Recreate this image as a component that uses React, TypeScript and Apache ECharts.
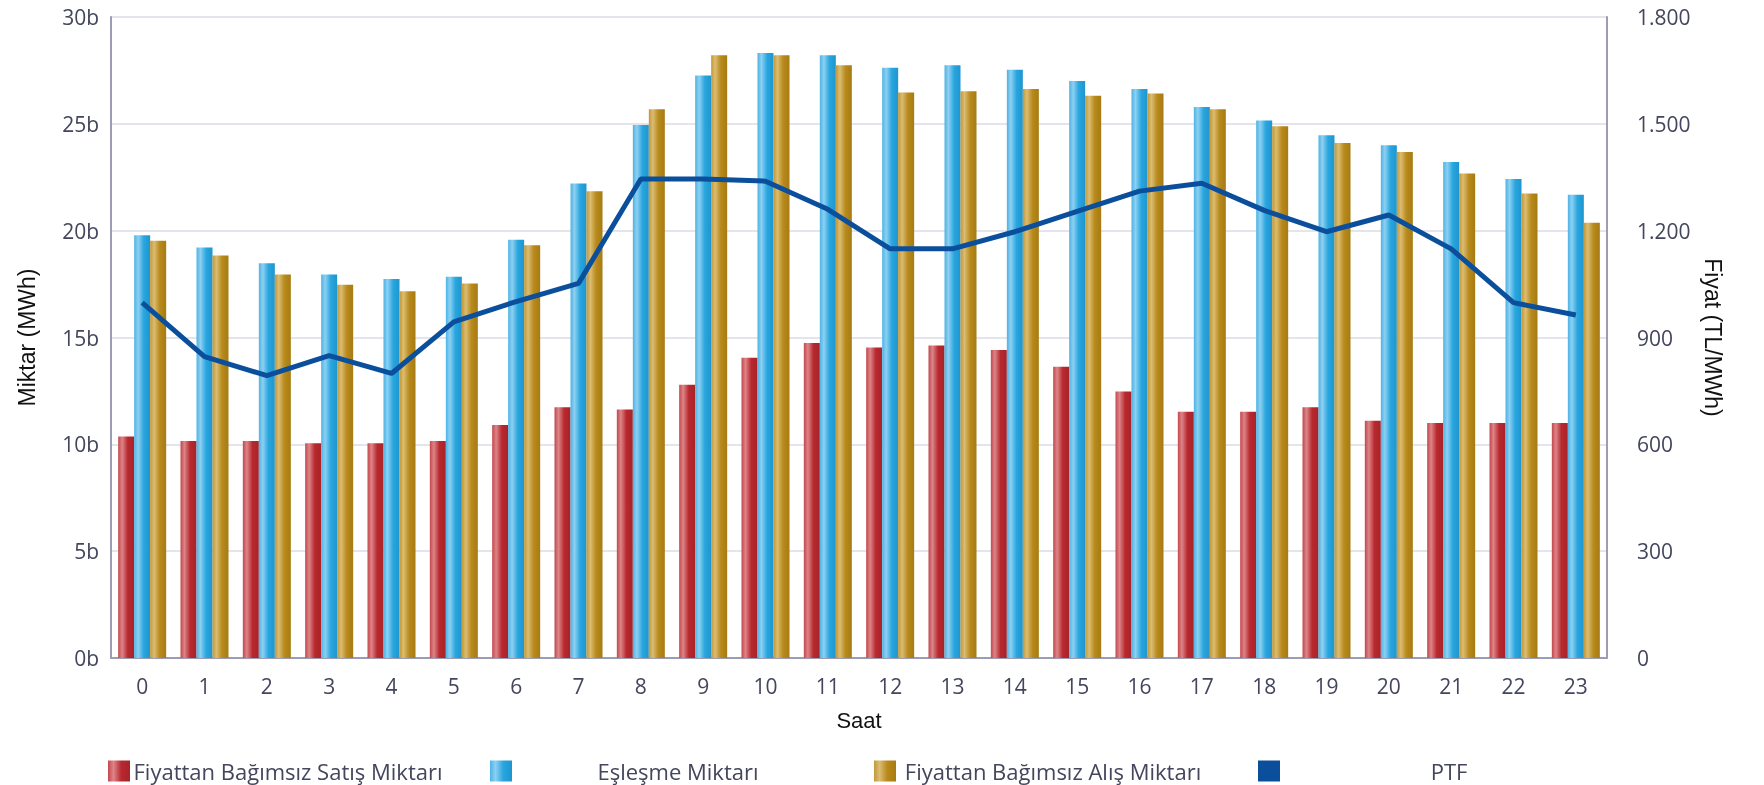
import React, { useEffect, useRef } from "react";
import * as echarts from "echarts";

const hours = ["0","1","2","3","4","5","6","7","8","9","10","11","12","13","14","15","16","17","18","19","20","21","22","23"];
const satisMiktari = [10370,10160,10160,10050,10050,10160,10900,11740,11630,12790,14050,14740,14530,14630,14420,13630,12470,11530,11530,11740,11100,11000,11000,11000];
const eslesmeMiktari = [19790,19210,18470,17950,17740,17840,19580,22210,24950,27260,28320,28210,27630,27740,27530,27000,26630,25790,25160,24470,24000,23210,22420,21680];
const alisMiktari = [19530,18840,17950,17470,17160,17530,19320,21840,25680,28210,28210,27740,26470,26530,26630,26320,26420,25680,24890,24100,23680,22680,21740,20370];
const ptf = [998,846,793,849,799,944,1001,1052,1345,1345,1339,1260,1149,1149,1197,1254,1311,1333,1257,1197,1244,1149,998,963];
const seriesNames = ["Fiyattan Bağımsız Satış Miktarı","Eşleşme Miktarı","Fiyattan Bağımsız Alış Miktarı","PTF"];

const grad = (c0: string, c1: string, c2: string, c3: string) =>
  new echarts.graphic.LinearGradient(0, 0, 1, 0, [
    { offset: 0, color: c0 },
    { offset: 0.25, color: c1 },
    { offset: 0.6, color: c2 },
    { offset: 1, color: c3 },
  ]);

const fmtTr = (v: number) => String(v).replace(/\B(?=(\d{3})+(?!\d))/g, ".");

export default function App() {
  const ref = useRef<HTMLDivElement>(null);
  useEffect(() => {
    const chart = echarts.init(ref.current!, null, { renderer: "svg" });
    const textColor = "#43465c";
    const font = "'Open Sans', sans-serif";
    const legendPos = [
      { left: 108, w: 306 },
      { left: 490, w: 322 },
      { left: 874, w: 304 },
      { left: 1258, w: 328 },
    ];
    chart.setOption({
      animation: false,
      textStyle: { fontFamily: font },
      grid: { left: 111, right: 157, top: 17, bottom: 127 },
      legend: seriesNames.map((n, i) => ({
        data: [n],
        left: legendPos[i].left,
        top: 760,
        padding: 0,
        itemWidth: 22,
        itemHeight: 21,
        itemGap: 0,
        icon: "rect",
        selectedMode: false,
        formatter: (name: string) => `{a|${name}}`,
        textStyle: {
          color: textColor,
          fontFamily: font,
          fontSize: 22,
          rich: { a: { width: legendPos[i].w, align: "center", fontSize: 22, color: textColor, fontFamily: font } },
        },
      })),
      xAxis: {
        type: "category",
        data: hours,
        name: "Saat",
        nameLocation: "middle",
        nameGap: 51,
        nameTextStyle: { color: "#111", fontSize: 22, fontFamily: "'Liberation Sans', Arial, sans-serif" },
        axisLine: { lineStyle: { color: "#9c9cb4", width: 2 } },
        axisTick: { show: false },
        axisLabel: { color: textColor, fontSize: 21, margin: 17 },
      },
      yAxis: [
        {
          type: "value",
          min: 0,
          max: 30000,
          interval: 5000,
          name: "Miktar (MWh)",
          nameLocation: "middle",
          nameGap: 73,
          nameRotate: 90,
          nameTextStyle: { color: "#111", fontSize: 23, fontFamily: "'Liberation Sans', Arial, sans-serif" },
          axisLine: { show: true, lineStyle: { color: "#9c9cb4", width: 2 } },
          axisTick: { show: false },
          axisLabel: { color: textColor, fontSize: 21, margin: 12, formatter: (v: number) => v / 1000 + "b" },
          splitLine: { lineStyle: { color: "#e4e4ec", width: 2 } },
        },
        {
          type: "value",
          min: 0,
          max: 1800,
          interval: 300,
          position: "right",
          name: "Fiyat (TL/MWh)",
          nameLocation: "middle",
          nameGap: 90,
          nameRotate: -90,
          nameTextStyle: { color: "#111", fontSize: 23, fontFamily: "'Liberation Sans', Arial, sans-serif" },
          axisLine: { show: true, lineStyle: { color: "#9c9cb4", width: 2 } },
          axisTick: { show: false },
          axisLabel: { color: textColor, fontSize: 21, margin: 30, formatter: (v: number) => fmtTr(v) },
          splitLine: { show: false },
        },
      ],
      series: [
        {
          name: seriesNames[0],
          type: "bar",
          data: satisMiktari,
          barWidth: 16,
          barGap: "0%",
          itemStyle: { color: grad("#c4474c", "#dc8588", "#b8292f", "#a72328") },
        },
        {
          name: seriesNames[1],
          type: "bar",
          data: eslesmeMiktari,
          barWidth: 16,
          barGap: "0%",
          itemStyle: { color: grad("#4cb3e5", "#8dd0f2", "#29a6df", "#1f95cf") },
        },
        {
          name: seriesNames[2],
          type: "bar",
          data: alisMiktari,
          barWidth: 16,
          barGap: "0%",
          itemStyle: { color: grad("#c29838", "#dabc72", "#b98a1c", "#a67b12") },
        },
        {
          name: seriesNames[3],
          type: "line",
          yAxisIndex: 1,
          data: ptf,
          showSymbol: false,
          symbol: "none",
          lineStyle: { color: "#0b4f9c", width: 5 },
          itemStyle: { color: "#0b4f9c" },
          z: 5,
        },
      ],
    });
    return () => chart.dispose();
  }, []);
  return <div ref={ref} style={{ position: "fixed", left: 0, top: 0, width: 1764, height: 785 }} />;
}
